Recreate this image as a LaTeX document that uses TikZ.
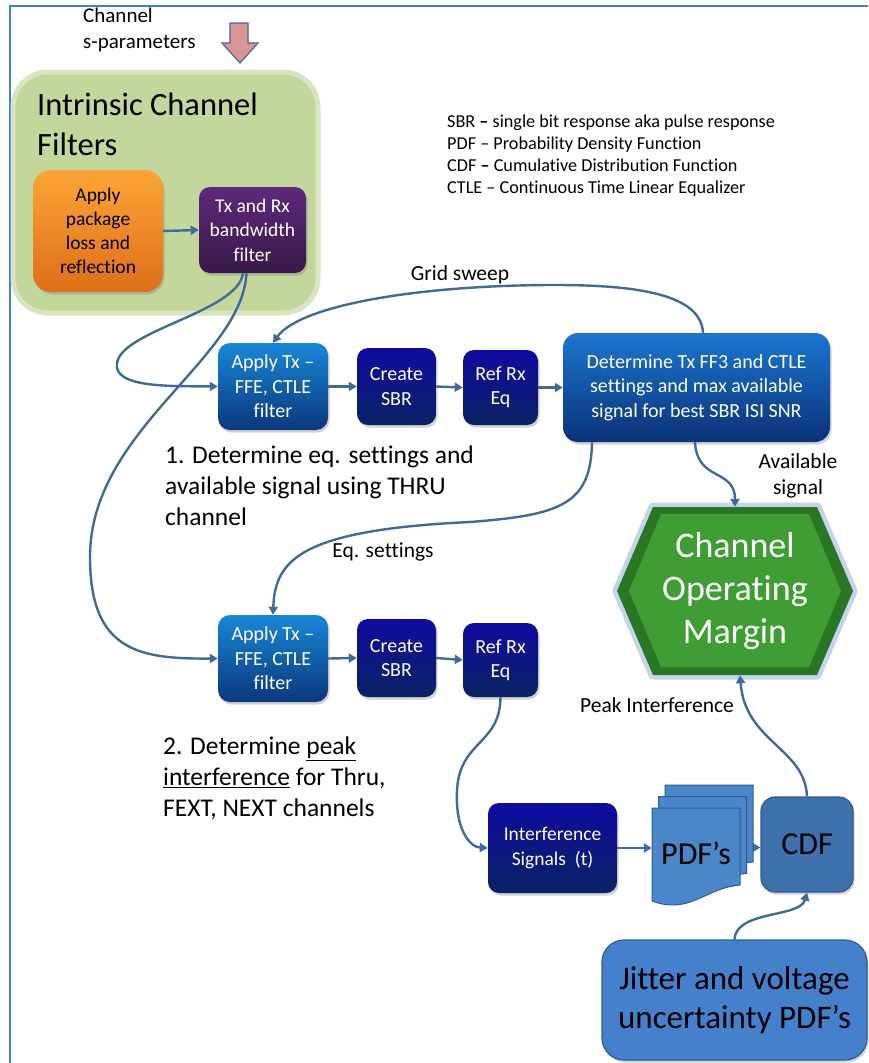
\documentclass[tikz,border=0pt]{standalone}
\usepackage{fontspec}
\setmainfont{Carlito}[Ligatures=NoCommon]
\usetikzlibrary{arrows.meta,shadows}
\definecolor{linec}{RGB}{65,105,155}
\definecolor{framec}{RGB}{70,125,215}
\definecolor{applyT}{RGB}{25,135,215}
\definecolor{applyB}{RGB}{10,55,125}
\definecolor{navyT}{RGB}{15,10,160}
\definecolor{navyB}{RGB}{10,35,100}
\definecolor{detT}{RGB}{28,118,208}
\definecolor{detB}{RGB}{10,50,120}
\definecolor{purpT}{RGB}{95,40,125}
\definecolor{purpB}{RGB}{55,25,70}
\definecolor{oranT}{RGB}{252,165,55}
\definecolor{oranB}{RGB}{222,110,25}
\definecolor{greenfill}{RGB}{195,214,155}
\definecolor{greenedge}{RGB}{216,229,192}
\definecolor{hexdark}{RGB}{42,118,36}
\definecolor{hexface}{RGB}{62,158,52}
\definecolor{hexglow}{RGB}{196,212,238}
\definecolor{docfill}{RGB}{74,134,200}
\definecolor{docedge}{RGB}{48,92,148}
\definecolor{cdffill}{RGB}{62,112,172}
\definecolor{jitfill}{RGB}{68,128,204}
\definecolor{pinkfill}{RGB}{217,150,148}
\tikzset{
  every node/.style={inner sep=0pt, align=center},
  conn/.style={draw=linec, line width=2.4pt, -{Triangle[length=8pt,width=9pt]}},
  shad/.style={drop shadow={shadow xshift=1.5pt, shadow yshift=-2.5pt, opacity=0.35}},
  boxfont/.style={font=\fontsize{20}{24.5}\selectfont},
  applybox/.style={shad, rounded corners=12pt, top color=applyT, bottom color=applyB, text=white, boxfont},
  navybox/.style={shad, rounded corners=11pt, top color=navyT, bottom color=navyB, text=white, boxfont},
  detbox/.style={shad, rounded corners=15pt, top color=detT, bottom color=detB, text=white, boxfont},
  labelfont/.style={font=\fontsize{21.5}{26}\selectfont},
}
\begin{document}
\begin{tikzpicture}[x=1pt,y=-1pt]
\useasboundingbox (0,0) rectangle (868,1063);
\fill[white] (0,0) rectangle (868,1063);
\draw[framec, line width=1.5pt] (10,1063) -- (10,6) -- (868,6);

% input label and block arrow
\node[anchor=north west, align=left, font=\fontsize{21}{26}\selectfont] (chtxt) at (83,7.5) {Channel\\s-parameters};
\draw[fill=pinkfill, draw=linec, line width=1.2pt] (230,23) -- (248,23) -- (248,43) -- (258,43) -- (240,63) -- (222,43) -- (230,43) -- cycle;

% intrinsic channel filters group
\node[draw=greenedge, line width=5pt, fill=greenfill, rounded corners=35pt, minimum width=305, minimum height=241] (green) at (165.5,192.5) {};
\node[anchor=base west, font=\fontsize{32.5}{40}\selectfont] (title1) at (37,115) {Intrinsic Channel};
\node[anchor=base west, font=\fontsize{32.5}{40}\selectfont] (title2) at (37,155) {Filters};
\node[shad, rounded corners=18pt, top color=oranT, bottom color=oranB, minimum width=130, minimum height=122, font=\fontsize{19.5}{24}\selectfont] (orange) at (98,231) {Apply\\package\\loss and\\reflection};
\node[shad, rounded corners=11pt, top color=purpT, bottom color=purpB, text=white, minimum width=107, minimum height=86, font=\fontsize{19.5}{24.5}\selectfont] (purple) at (252.5,230) {Tx and Rx\\bandwidth\\filter};
\draw[conn] (orange.east) -- (purple.west);

% legend
\node[anchor=north west, align=left, font=\fontsize{18.2}{22}\selectfont] (legend) at (447,115) {SBR \textbf{--} single bit response aka pulse response\\PDF -- Probability Density Function\\CDF \textbf{--} Cumulative Distribution Function\\CTLE -- Continuous Time Linear Equalizer};

% row 1
\node[applybox, minimum width=110, minimum height=87] (apply1) at (273,386.5) {Apply Tx --\\FFE, CTLE\\filter};
\node[navybox, minimum width=79, minimum height=77] (create1) at (396.5,386.5) {Create\\SBR};
\node[navybox, minimum width=75, minimum height=75] (ref1) at (500.5,387.5) {Ref Rx\\Eq};
\node[detbox, minimum width=267, minimum height=109] (det) at (696.5,387.5) {Determine Tx FF3 and CTLE\\settings and max available\\signal for best SBR ISI SNR};
\draw[conn] (apply1.east) -- (create1.west);
\draw[conn] (create1.east) -- (ref1.west);
\draw[conn] (ref1.east) -- (det.west);

\node[labelfont] (gridlbl) at (460,275) {Grid sweep};
\draw[conn] ([xshift=6.5pt]det.north) .. controls (701,295) and (640,285) .. (555,285) .. controls (420,285) and (300,305) .. (apply1.north);

\node[anchor=north west, align=left, font=\fontsize{25.5}{31}\selectfont] (step1) at (165,445.5) {1. Determine eq. settings and\\available signal using THRU\\channel};

% row 2
\node[applybox, minimum width=110, minimum height=87] (apply2) at (273,658.5) {Apply Tx --\\FFE, CTLE\\filter};
\node[navybox, minimum width=79, minimum height=78] (create2) at (396.5,658) {Create\\SBR};
\node[navybox, minimum width=75, minimum height=74] (ref2) at (500.5,660) {Ref Rx\\Eq};
\draw[conn] (apply2.east) -- (create2.west);
\draw[conn] (create2.east) -- (ref2.west);

\node[labelfont] (eqlbl) at (383,552) {Eq. settings};
\draw[conn] ([xshift=-104.5pt]det.south) .. controls (591,505) and (560,515) .. (470,522) .. controls (300,530) and (275,560) .. (apply2.north);

\node[anchor=north west, align=left, font=\fontsize{25.5}{31}\selectfont] (step2) at (163,736.5) {2. Determine \underline{peak}\\\underline{interference} for Thru,\\FEXT, NEXT channels};

% filter outputs
\coordinate (fo1) at ([xshift=-9.5pt]purple.south);
\coordinate (fo2) at ([xshift=-6pt]purple.south);
\draw[conn] (fo1) .. controls (238,312) and (122,330) .. (117,363) .. controls (113,388) and (170,386) .. (apply1.west);
\draw[conn] (fo2) .. controls (242,360) and (90,430) .. (90,557) .. controls (90,652) and (140,659) .. (apply2.west);

% channel operating margin hexagon
\node[minimum width=236, minimum height=168] (hex) at (735,591) {};
\draw[hexglow, line width=9pt, line join=round] (617,591) -- (653,507) -- (817,507) -- (853,591) -- (817,675) -- (653,675) -- cycle;
\fill[hexdark] (617,591) -- (653,507) -- (817,507) -- (853,591) -- (817,675) -- (653,675) -- cycle;
\fill[hexface] (629,591) -- (661,514) -- (809,514) -- (841,591) -- (809,667) -- (661,667) -- cycle;
\node[text=white, font=\fontsize{36}{43}\selectfont] (hextxt) at (735,591) {Channel\\Operating\\Margin};

\node[labelfont] (availlbl) at (798,476) {Available\\signal};
\draw[conn] ([xshift=-1.5pt]det.south) .. controls (697,482) and (735,468) .. (hex.north);

% interference path
\node[navybox, minimum width=129, minimum height=90, font=\fontsize{19.5}{25}\selectfont] (interf) at (552.5,848) {Interference\\Signals\ \ (t)};
\draw[conn] (ref2.south) .. controls (500,745) and (460,740) .. (457,790) .. controls (455,830) and (470,847) .. (interf.west);

% PDF stack
\node[minimum width=101, minimum height=125] (pdfstack) at (702.5,847.5) {};
\begin{scope}[fill=docfill, draw=docedge, line width=1pt]
\filldraw (665,785) -- (753,785) -- (753,862) .. controls (718,865) and (703,892) .. (665,878) -- cycle;
\filldraw (658.5,796.5) -- (746.5,796.5) -- (746.5,873.5) .. controls (711,876) and (696,903) .. (658.5,889.5) -- cycle;
\filldraw (652,808) -- (740,808) -- (740,885) .. controls (705,888) and (690,915) .. (652,901) -- cycle;
\end{scope}
\node[font=\fontsize{32}{36}\selectfont] (pdftxt) at (696,853) {PDF’s};

\node[shad, rounded corners=14pt, fill=cdffill, draw=docedge, line width=1.2pt, minimum width=92, minimum height=95, font=\fontsize{32}{36}\selectfont] (cdf) at (807,844.5) {CDF};
\node[shad, rounded corners=22pt, fill=jitfill, draw=docedge, line width=1.2pt, minimum width=265, minimum height=120, font=\fontsize{33}{39}\selectfont] (jitter) at (734.5,1000) {Jitter and voltage\\uncertainty PDF’s};

\draw[conn] (interf.east) -- (interf.east -| pdfstack.west);
\draw[conn] (pdfstack.east) -- (pdfstack.east -| cdf.west);
\draw[conn] (jitter.north) .. controls (736,910) and (800,918) .. (cdf.south);
\node[labelfont] (peaklbl) at (657,705) {Peak Interference};
\draw[conn] (cdf.north) .. controls (805,748) and (745,742) .. ([xshift=5pt]hex.south);
\end{tikzpicture}
\end{document}
